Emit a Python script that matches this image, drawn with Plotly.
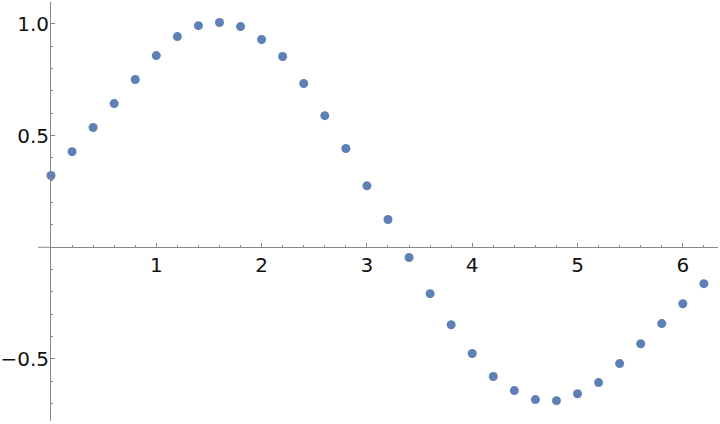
import plotly.graph_objects as go

x_vals = [0.0, 0.2, 0.4, 0.6, 0.8, 1.0, 1.2, 1.4, 1.6, 1.8, 2.0, 2.2, 2.4, 2.6, 2.8, 3.0,
          3.2, 3.4, 3.6, 3.8, 4.0, 4.2, 4.4, 4.6, 4.8, 5.0, 5.2, 5.4, 5.6, 5.8, 6.0, 6.2]
y_vals = [0.321, 0.428, 0.536, 0.643, 0.751, 0.858, 0.943, 0.992, 1.006, 0.988, 0.930,
          0.854, 0.733, 0.589, 0.442, 0.275, 0.124, -0.046, -0.208, -0.347, -0.476,
          -0.579, -0.642, -0.682, -0.687, -0.656, -0.606, -0.521, -0.432, -0.342,
          -0.253, -0.163]

x_ticks = [1, 2, 3, 4, 5, 6]
x_tick_text = ["1", "2", "3", "4", "5", "6"]
y_ticks = [-0.5, 0.5, 1.0]
y_tick_text = ["\u22120.5", "0.5", "1.0"]

x_range = [0, 6.334]
y_range = [-0.778, 1.098]

axis_color = "#888888"
font = dict(family="DejaVu Sans", size=20, color="#111111")

fig = go.Figure(go.Scatter(
    x=x_vals, y=y_vals, mode="markers",
    marker=dict(size=9, color="#5E81B5"),
    cliponaxis=False,
))

ypos = (0 - y_range[0]) / (y_range[1] - y_range[0])
plot_w = 720 - 51 - 2

fig.update_layout(
    width=720, height=424,
    margin=dict(l=51, r=2, t=2, b=3),
    paper_bgcolor="white", plot_bgcolor="white",
    showlegend=False,
    font=font,
    xaxis=dict(
        range=x_range, anchor="free", position=ypos,
        showgrid=False, zeroline=False, showline=True, linecolor=axis_color, linewidth=1,
        tickmode="array", tickvals=x_ticks, ticktext=x_tick_text,
        ticks="inside", ticklen=4, tickcolor=axis_color, tickwidth=1,
        minor=dict(dtick=0.2, tick0=0, ticks="inside", ticklen=2, tickcolor=axis_color),
        automargin=False, tickfont=font,
    ),
    yaxis=dict(
        range=y_range, anchor="x", side="left",
        showgrid=False, zeroline=False, showline=True, linecolor=axis_color, linewidth=1,
        tickmode="array", tickvals=y_ticks, ticktext=y_tick_text,
        ticks="inside", ticklen=4, tickcolor=axis_color, tickwidth=1,
        minor=dict(dtick=0.1, tick0=0, ticks="inside", ticklen=2, tickcolor=axis_color),
        automargin=False, tickfont=font, ticklabelstandoff=-3,
    ),
    shapes=[dict(type="line", xref="paper", yref="y", x0=-13 / plot_w, x1=0, y0=0, y1=0,
                 line=dict(color=axis_color, width=1))],
)

fig.write_html("out.html", config={"displayModeBar": False},
               post_script="document.body.style.margin='0';")
